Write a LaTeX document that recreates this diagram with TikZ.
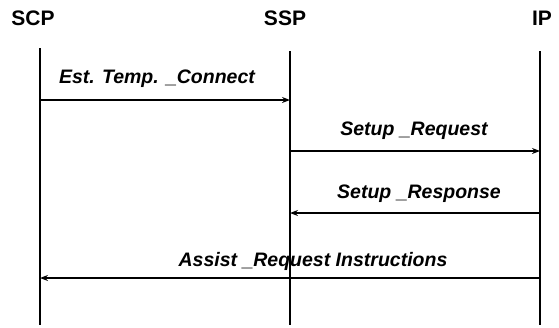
\documentclass[tikz,border=0pt]{standalone}
\usepackage{fontspec}
\setmainfont{Liberation Sans}
\usetikzlibrary{arrows.meta}

\begin{document}
\begin{tikzpicture}[x=1pt,y=-1pt,
  entity/.style={font=\fontsize{21}{24}\selectfont\bfseries},
  msg/.style={font=\fontsize{19.5}{22}\selectfont\bfseries\itshape},
  life/.style={line width=2.2pt},
  call/.style={line width=1.8pt,-{Stealth[length=8pt,width=6pt]}}]
\useasboundingbox (0,0) rectangle (559,327);

% Entities
\node[entity] (scp) at (33,18) {SCP};
\node[entity] (ssp) at (285,18) {SSP};
\node[entity] (ip) at (542,18) {IP};

% Lifelines
\coordinate (scptop) at (40,48);
\coordinate (scpbot) at (40,325);
\coordinate (ssptop) at (290,51);
\coordinate (sspbot) at (290,325);
\coordinate (iptop) at (540,51);
\coordinate (ipbot) at (540,325);
\draw[life] (scptop) -- (scpbot);
\draw[life] (ssptop) -- (sspbot);
\draw[life] (iptop) -- (ipbot);

% Message ends
\coordinate (scp1) at (40,100);
\coordinate (ssp1) at (290,100);
\coordinate (ssp2) at (290,151);
\coordinate (ip2) at (540,151);
\coordinate (ip3) at (540,213);
\coordinate (ssp3) at (290,213);
\coordinate (ip4) at (540,278);
\coordinate (scp4) at (40,278);

% Messages
\draw[call] (scp1) -- (ssp1);
\draw[call] (ssp2) -- (ip2);
\draw[call] (ip3) -- (ssp3);
\draw[call] (ip4) -- (scp4);

% Labels
\node[msg] (m1) at (157,79) {Est. Temp. \_Connect};
\node[msg] (m2) at (414,131) {Setup \_Request};
\node[msg] (m3) at (419,194) {Setup \_Response};
\node[msg] (m4) at (313,261) {Assist \_Request Instructions};
\end{tikzpicture}
\end{document}
